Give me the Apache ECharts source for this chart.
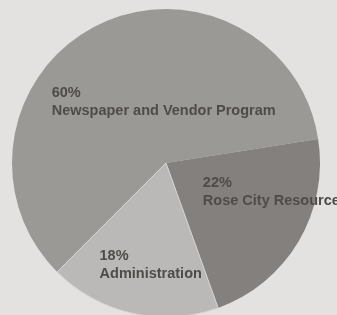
<!DOCTYPE html>
<html>
<head>
<meta charset="utf-8">
<script src="https://cdn.jsdelivr.net/npm/echarts@6/dist/echarts.min.js"></script>
<style>
  html, body { margin: 0; padding: 0; background: #e3e2e0; }
  #chart { width: 337px; height: 315px; }
</style>
</head>
<body>
<div id="chart"></div>
<script>
// slices, clockwise from the upper left
const names = ['Newspaper and Vendor Program', 'Rose City Resource', 'Administration'];
const shares = [60, 22, 18];
const colors = ['#9b9996', '#84807d', '#bab9b7'];
// label nudges from the default inside spot
const labelOffsets = [[-78, 10], [-32, -12], [-49, 24]];

const chart = echarts.init(document.getElementById('chart'));

const data = names.map((n, i) => ({
  name: n,
  value: shares[i],
  itemStyle: i === 2
    ? { color: colors[i], borderColor: '#d6d5d3', borderWidth: 1 }
    : { color: colors[i] }
}));

chart.setOption({
  backgroundColor: '#e3e2e0',
  animation: false,
  series: [{
    type: 'pie',
    center: [166, 163],
    radius: 154,
    startAngle: 225,
    clockwise: true,
    data: data,
    label: {
      position: 'inside',
      formatter: '{c}%\n{b}',
      color: '#4f4b48',
      fontFamily: 'Liberation Sans',
      fontWeight: 'bold',
      fontSize: 14.5,
      lineHeight: 18
    },
    labelLayout: function (p) {
      const o = labelOffsets[p.dataIndex];
      return { align: 'left', verticalAlign: 'middle', dx: o[0], dy: o[1] };
    },
    labelLine: { show: false },
    emphasis: { disabled: true }
  }]
});
</script>
</body>
</html>
